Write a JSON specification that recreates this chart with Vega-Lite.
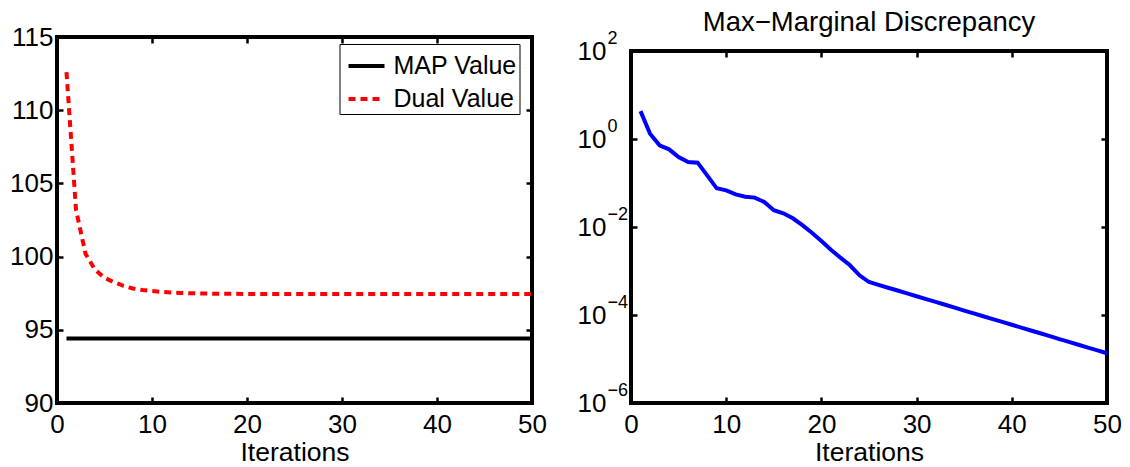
{
  "$schema": "https://vega.github.io/schema/vega-lite/v6.json",
  "background": "white",
  "padding": {"left": 7, "top": 6, "right": 0, "bottom": 0},
  "spacing": 26,
  "config": {
    "font": "Liberation Sans",
    "view": {"stroke": "black", "strokeWidth": 4},
    "axis": {
      "domain": false, "grid": false,
      "tickColor": "black", "tickWidth": 2.5, "tickSize": -6,
      "labelColor": "black", "labelFont": "Liberation Sans", "labelFontSize": 26,
      "labelFlush": false, "labelOverlap": false, "labelBound": false,
      "titleFont": "Liberation Sans", "titleFontSize": 26.5, "titleFontWeight": "normal", "titleColor": "black"
    },
    "title": {"font": "Liberation Sans", "fontSize": 27.5, "fontWeight": "normal", "color": "black", "anchor": "middle"}
  },
  "datasets": {
    "left": [
      {"iter": 1, "series": "MAP Value", "value": 94.4}, {"iter": 2, "series": "MAP Value", "value": 94.4},
      {"iter": 3, "series": "MAP Value", "value": 94.4}, {"iter": 4, "series": "MAP Value", "value": 94.4},
      {"iter": 5, "series": "MAP Value", "value": 94.4}, {"iter": 6, "series": "MAP Value", "value": 94.4},
      {"iter": 7, "series": "MAP Value", "value": 94.4}, {"iter": 8, "series": "MAP Value", "value": 94.4},
      {"iter": 9, "series": "MAP Value", "value": 94.4}, {"iter": 10, "series": "MAP Value", "value": 94.4},
      {"iter": 15, "series": "MAP Value", "value": 94.4}, {"iter": 20, "series": "MAP Value", "value": 94.4},
      {"iter": 25, "series": "MAP Value", "value": 94.4}, {"iter": 30, "series": "MAP Value", "value": 94.4},
      {"iter": 35, "series": "MAP Value", "value": 94.4}, {"iter": 40, "series": "MAP Value", "value": 94.4},
      {"iter": 45, "series": "MAP Value", "value": 94.4}, {"iter": 50, "series": "MAP Value", "value": 94.4},
      {"iter": 1, "series": "Dual Value", "value": 112.6}, {"iter": 2, "series": "Dual Value", "value": 103.2},
      {"iter": 3, "series": "Dual Value", "value": 100.2}, {"iter": 4, "series": "Dual Value", "value": 99.1},
      {"iter": 5, "series": "Dual Value", "value": 98.55}, {"iter": 6, "series": "Dual Value", "value": 98.25},
      {"iter": 7, "series": "Dual Value", "value": 98.0}, {"iter": 8, "series": "Dual Value", "value": 97.82},
      {"iter": 9, "series": "Dual Value", "value": 97.72}, {"iter": 10, "series": "Dual Value", "value": 97.65},
      {"iter": 11, "series": "Dual Value", "value": 97.59}, {"iter": 12, "series": "Dual Value", "value": 97.55},
      {"iter": 13, "series": "Dual Value", "value": 97.52}, {"iter": 14, "series": "Dual Value", "value": 97.5},
      {"iter": 15, "series": "Dual Value", "value": 97.48}, {"iter": 16, "series": "Dual Value", "value": 97.47},
      {"iter": 17, "series": "Dual Value", "value": 97.46}, {"iter": 18, "series": "Dual Value", "value": 97.46},
      {"iter": 20, "series": "Dual Value", "value": 97.45}, {"iter": 25, "series": "Dual Value", "value": 97.45},
      {"iter": 30, "series": "Dual Value", "value": 97.45}, {"iter": 35, "series": "Dual Value", "value": 97.45},
      {"iter": 40, "series": "Dual Value", "value": 97.45}, {"iter": 45, "series": "Dual Value", "value": 97.45},
      {"iter": 50, "series": "Dual Value", "value": 97.45}
    ],
    "right": [
      {"iter": 1, "value": 4.3}, {"iter": 2, "value": 1.32}, {"iter": 3, "value": 0.718},
      {"iter": 4, "value": 0.582}, {"iter": 5, "value": 0.39}, {"iter": 6, "value": 0.3},
      {"iter": 7, "value": 0.29}, {"iter": 8, "value": 0.149}, {"iter": 9, "value": 0.0757},
      {"iter": 10, "value": 0.0682}, {"iter": 11, "value": 0.0552}, {"iter": 12, "value": 0.0489},
      {"iter": 13, "value": 0.0465}, {"iter": 14, "value": 0.037}, {"iter": 15, "value": 0.024},
      {"iter": 16, "value": 0.0205}, {"iter": 17, "value": 0.0158}, {"iter": 18, "value": 0.011},
      {"iter": 19, "value": 0.00741}, {"iter": 20, "value": 0.00481}, {"iter": 21, "value": 0.00305},
      {"iter": 22, "value": 0.00201}, {"iter": 23, "value": 0.00135}, {"iter": 24, "value": 0.000798},
      {"iter": 25, "value": 0.000562}, {"iter": 26, "value": 0.000484}, {"iter": 27, "value": 0.000417},
      {"iter": 28, "value": 0.00036}, {"iter": 29, "value": 0.00031}, {"iter": 30, "value": 0.000267},
      {"iter": 31, "value": 0.00023}, {"iter": 32, "value": 0.000198}, {"iter": 33, "value": 0.000171},
      {"iter": 34, "value": 0.000147}, {"iter": 35, "value": 0.000126}, {"iter": 36, "value": 0.000109},
      {"iter": 37, "value": 0.0000938}, {"iter": 38, "value": 0.0000809}, {"iter": 39, "value": 0.0000697},
      {"iter": 40, "value": 0.00006}, {"iter": 41, "value": 0.0000517}, {"iter": 42, "value": 0.0000445},
      {"iter": 43, "value": 0.0000384}, {"iter": 44, "value": 0.000033}, {"iter": 45, "value": 0.0000284},
      {"iter": 46, "value": 0.0000245}, {"iter": 47, "value": 0.0000211}, {"iter": 48, "value": 0.0000182},
      {"iter": 49, "value": 0.0000157}, {"iter": 50, "value": 0.0000135}
    ]
  },
  "hconcat": [
    {
      "width": 475, "height": 366,
      "data": {"name": "left"},
      "layer": [
        {
          "mark": {"type": "line", "strokeWidth": 4},
          "encoding": {
            "x": {"field": "iter", "type": "quantitative",
              "scale": {"domain": [0, 50], "nice": false},
              "axis": {"orient": "bottom", "values": [0, 10, 20, 30, 40, 50], "title": "Iterations", "labelPadding": 14, "titlePadding": 2}},
            "y": {"field": "value", "type": "quantitative",
              "scale": {"domain": [90, 115], "nice": false, "zero": false},
              "axis": {"orient": "left", "values": [90, 95, 100, 105, 110, 115], "title": null, "labelPadding": 10}},
            "color": {"field": "series", "type": "nominal",
              "scale": {"domain": ["MAP Value", "Dual Value"], "range": ["#000000", "#ff0000"]},
              "legend": {"title": null, "orient": "none", "legendX": 282.5, "legendY": 7,
                "strokeColor": "black", "fillColor": "white", "padding": 2, "symbolOffset": 5,
                "symbolType": "stroke", "symbolSize": 1296, "symbolStrokeWidth": 4,
                "labelFontSize": 25, "labelFont": "Liberation Sans", "labelColor": "black",
                "labelOffset": 7, "rowPadding": -9}},
            "strokeDash": {"field": "series", "type": "nominal",
              "scale": {"domain": ["MAP Value", "Dual Value"], "range": [[1, 0], [7, 5]]},
              "legend": {"title": null, "orient": "none", "legendX": 282.5, "legendY": 7,
                "strokeColor": "black", "fillColor": "white", "padding": 2, "symbolOffset": 5,
                "symbolType": "stroke", "symbolSize": 1296, "symbolStrokeWidth": 4,
                "labelFontSize": 25, "labelFont": "Liberation Sans", "labelColor": "black",
                "labelOffset": 7, "rowPadding": -9}}
          }
        },
        {
          "mark": {"type": "point", "opacity": 0},
          "encoding": {
            "x": {"field": "iter", "type": "quantitative",
              "axis": {"orient": "top", "values": [0, 10, 20, 30, 40, 50], "labels": false, "title": null}},
            "y": {"field": "value", "type": "quantitative",
              "axis": {"orient": "right", "values": [90, 95, 100, 105, 110, 115], "labels": false, "title": null}}
          }
        }
      ],
      "resolve": {"axis": {"x": "independent", "y": "independent"}}
    },
    {
      "bounds": "flush",
      "spacing": 0,
      "vconcat": [
        {
          "width": 476, "height": 14,
          "view": {"stroke": null},
          "data": {"values": []},
          "mark": "point"
        },
        {
          "width": 476, "height": 352,
          "title": {"text": "Max−Marginal Discrepancy", "offset": -7},
          "data": {"name": "right"},
          "layer": [
            {
              "mark": {"type": "line", "color": "#0000ff", "strokeWidth": 4},
              "encoding": {
                "x": {"field": "iter", "type": "quantitative",
                  "scale": {"domain": [0, 50], "nice": false},
                  "axis": {"orient": "bottom", "values": [0, 10, 20, 30, 40, 50], "title": "Iterations", "labelPadding": 14, "titlePadding": 2}},
                "y": {"field": "value", "type": "quantitative",
                  "scale": {"type": "log", "domain": [0.000001, 100], "nice": false},
                  "axis": {"orient": "left", "values": [0.000001, 0.0001, 0.01, 1, 100], "labelExpr": "'10'",
                    "title": null, "labelAlign": "left", "labelPadding": 60}}
              }
            },
            {
              "mark": {"type": "point", "opacity": 0},
              "encoding": {
                "x": {"field": "iter", "type": "quantitative",
                  "axis": {"orient": "top", "values": [0, 10, 20, 30, 40, 50], "labels": false, "title": null}},
                "y": {"field": "value", "type": "quantitative",
                  "axis": {"orient": "right", "values": [0.000001, 0.0001, 0.01, 1, 100], "labels": false, "title": null}}
              }
            },
            {
              "mark": {"type": "point", "opacity": 0},
              "encoding": {
                "y": {"field": "value", "type": "quantitative",
                  "axis": {"orient": "left", "values": [0.000001, 0.0001, 0.01, 1, 100], "ticks": false, "title": null,
                    "labelExpr": "datum.value > 10 ? '2' : datum.value > 0.1 ? '0' : datum.value > 0.001 ? '−2' : datum.value > 0.00001 ? '−4' : '−6'",
                    "labelFontSize": 18, "labelAlign": "left", "labelPadding": 24, "labelOffset": -13}}
              }
            }
          ],
          "resolve": {"axis": {"x": "independent", "y": "independent"}}
        }
      ]
    }
  ]
}
